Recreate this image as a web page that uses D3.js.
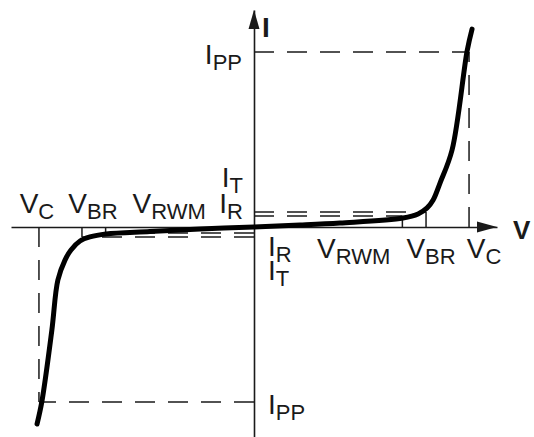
<!DOCTYPE html>
<html>
<head>
<meta charset="utf-8">
<script src="https://cdn.jsdelivr.net/npm/d3@7"></script>
<style>
  body { margin: 0; background: #fff; }
  text { font-family: "Liberation Sans", Arial, sans-serif; fill: #1a1a1a; }
</style>
</head>
<body>
<div id="chart"></div>
<script>
// I-V characteristic of a bidirectional TVS diode (normalised units)
var curveV = [-10.09, -9.86, -9.40, -9.12, -8.79, -8.51, -8.09, -7.63, -6.88, -4.84, -2.51, 0, 2.14, 4.0, 6.93, 7.63, 8.05, 8.33, 8.65, 9.21, 9.91, 10.14];
var curveI = [-11.26, -9.94, -5.89, -3.03, -1.89, -1.31, -0.80, -0.57, -0.40, -0.26, -0.11, 0, 0.11, 0.23, 0.51, 0.74, 1.09, 1.54, 2.51, 4.4, 10.06, 11.31];

// voltage levels: clamping, breakdown, reverse working
var voltNames = ["C", "BR", "RWM"];
var voltValues = [10, 8, 6.9];
// peak pulse current
var currentPP = 10;
// test / leakage current levels on each side
var currentNames = ["T", "R"];
var currentRight = [0.86, 0.63];
var currentLeft = [-0.57, -0.34];

var width = 534, height = 437;
var svg = d3.select("#chart").append("svg")
  .attr("width", width).attr("height", height);

var x = d3.scaleLinear().domain([-11.3, 11.3]).range([11, 497]);
var y = d3.scaleLinear().domain([-12, 12.4]).range([437, 10]);

var ink = "#1a1a1a";

// axes, only the domain lines
svg.append("g").attr("transform", "translate(0," + y(0) + ")")
  .call(d3.axisBottom(x).tickValues([]).tickSizeOuter(0))
  .select(".domain").attr("stroke", ink).attr("stroke-width", 1.6);
svg.append("g").attr("transform", "translate(" + x(0) + ",0)")
  .call(d3.axisLeft(y).tickValues([]).tickSizeOuter(0))
  .select(".domain").attr("stroke", ink).attr("stroke-width", 1.6);

// arrow heads
var xe = x.range()[1], yt = y.range()[1];
svg.append("path")
  .attr("d", "M" + xe + "," + y(0) + "L" + (xe - 20) + "," + (y(0) - 5.5) + "L" + (xe - 20) + "," + (y(0) + 5.5) + "Z")
  .attr("fill", ink);
svg.append("path")
  .attr("d", "M" + x(0) + "," + yt + "L" + (x(0) - 5.5) + "," + (yt + 19) + "L" + (x(0) + 5.5) + "," + (yt + 19) + "Z")
  .attr("fill", ink);

function seg(x1, y1, x2, y2, dashed) {
  svg.append("line")
    .attr("x1", x(x1)).attr("y1", y(y1)).attr("x2", x(x2)).attr("y2", y(y2))
    .attr("stroke", ink).attr("stroke-width", 1.5)
    .attr("stroke-dasharray", dashed ? "20,13" : null);
}

var vC = voltValues[0], vBR = voltValues[1], vRWM = voltValues[2];

// I_PP and V_C guides
seg(0, currentPP, vC, currentPP, true);
seg(vC, 0, vC, currentPP, true);
seg(0, -currentPP, -vC, -currentPP, true);
seg(-vC, 0, -vC, -currentPP, true);

// I_T / I_R guides
seg(0, currentRight[0], vBR, currentRight[0], true);
seg(0, currentRight[1], vRWM, currentRight[1], true);
seg(0, currentLeft[0], -vBR, currentLeft[0], true);
seg(0, currentLeft[1], -vRWM, currentLeft[1], true);

// small ticks from axis to curve
seg(vBR, 0, vBR, currentRight[0], false);
seg(vRWM, 0, vRWM, currentRight[1], false);
seg(-vBR, 0, -vBR, currentLeft[0], false);
seg(-vRWM, 0, -vRWM, currentLeft[1], false);

// the characteristic
var pts = curveV.map(function(v, i) { return [v, curveI[i]]; });
var line = d3.line()
  .x(function(d) { return x(d[0]); })
  .y(function(d) { return y(d[1]); })
  .curve(d3.curveCatmullRom.alpha(0.5));
svg.append("path").attr("d", line(pts))
  .attr("fill", "none").attr("stroke", "#000")
  .attr("stroke-width", 5).attr("stroke-linecap", "round").attr("stroke-linejoin", "round");

// labels with subscript
function label(main, sub, px, py, anchor) {
  var t = svg.append("text").attr("x", px).attr("y", py)
    .attr("text-anchor", anchor || "start")
    .style("font-size", "28px");
  t.append("tspan").text(main);
  t.append("tspan").attr("dy", 6).style("font-size", "22px").text(sub);
}

var base = y(0);
// upper-left row
label("V", voltNames[0], x(-vC) - 2, base - 14, "middle");
label("V", voltNames[1], x(-vBR) + 11, base - 14, "middle");
label("V", voltNames[2], x(-vRWM) + 27, base - 14, "start");
label("I", currentNames[1], x(0) - 11, base - 14, "end");
label("I", currentNames[0], x(0) - 11, base - 40, "end");
// lower-right row
label("V", voltNames[2], x(vRWM) - 12, base + 31, "end");
label("V", voltNames[1], x(vBR) + 5, base + 31, "middle");
label("V", voltNames[0], x(vC) + 15, base + 31, "middle");
label("I", currentNames[1], x(0) + 14, base + 29, "start");
label("I", currentNames[0], x(0) + 14, base + 53, "start");
// peak current
label("I", "PP", x(0) - 12, y(currentPP) + 12, "end");
label("I", "PP", x(0) + 14, y(-currentPP) + 12, "start");

// axis names
svg.append("text").attr("x", x(0) + 8).attr("y", yt + 27)
  .style("font-size", "28px").style("font-weight", "bold").text("I");
svg.append("text").attr("x", xe + 16).attr("y", y(0) + 12)
  .style("font-size", "26px").style("font-weight", "bold").text("V");
</script>
</body>
</html>
